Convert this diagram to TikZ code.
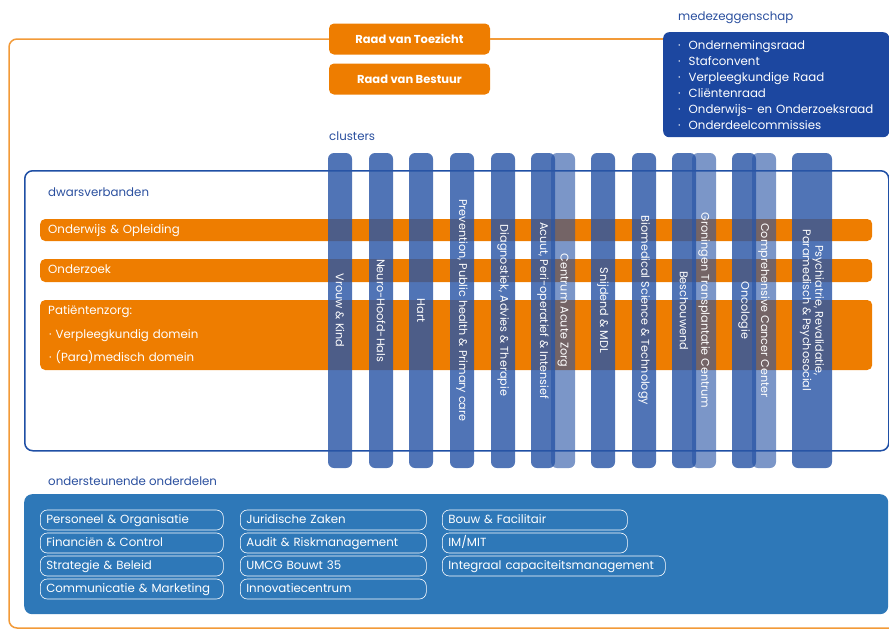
\documentclass[tikz,border=0pt]{standalone}
\usepackage{fontspec}
\setmainfont{Poppins}
\usepackage{tikz}
\definecolor{umcgorange}{HTML}{EE7D00}
\definecolor{framerange}{HTML}{F29A38}
\definecolor{umcgblue}{HTML}{1F4FA5}
\definecolor{mzblue}{HTML}{1C47A0}
\definecolor{clusterblue}{HTML}{2A56A6}
\definecolor{supportblue}{HTML}{2E78B8}
\definecolor{labelblue}{HTML}{2A4F9E}

\begin{document}
\begin{tikzpicture}[x=1pt,y=-1pt,
  every node/.style={font=\fontsize{11.8}{13}\selectfont},
  raad/.style={fill=umcgorange,text=white,rounded corners=5,minimum width=161,minimum height=31,font=\bfseries\fontsize{11.5}{13}\selectfont},
  lbl/.style={anchor=west,text=labelblue,inner sep=0},
  bar/.style={fill=umcgorange,text=white,rounded corners=5,anchor=west,minimum width=832,inner xsep=8,text width=816,align=left},
  col/.style={fill=clusterblue,rounded corners=6,rotate=-90,minimum width=315,text=white,inner sep=0,align=center,font=\fontsize{11.2}{12.5}\selectfont},
  sub/.style={draw=white,line width=0.6pt,rounded corners=7,text=white,anchor=west,minimum height=20,inner xsep=6,inner ysep=0,
    text height=8.5,text depth=2.5,text width=#1-12,align=left}]
\useasboundingbox (0,0) rectangle (889,632);

% top: boards and medezeggenschap
\node[raad] (toezicht) at (409.5,39) {Raad van Toezicht};
\node[raad] (bestuur) at (409.5,79) {Raad van Bestuur};
\node[lbl] (mzlabel) at (678,18) {medezeggenschap};
\node[fill=mzblue,text=white,rounded corners=6,anchor=north west,minimum width=226,minimum height=105,
  inner xsep=15,text width=196,align=left,font=\fontsize{11.8}{16}\selectfont] (mz) at (663,32)
  {·\hspace{8pt}Ondernemingsraad\\ ·\hspace{8pt}Stafconvent\\ ·\hspace{8pt}Verpleegkundige Raad\\ ·\hspace{8pt}Cliëntenraad\\
   ·\hspace{8pt}Onderwijs- en Onderzoeksraad\\ ·\hspace{8pt}Onderdeelcommissies};
\draw[framerange,line width=1.5pt] (toezicht.east) -- (toezicht.east -| mz.west);
\draw[framerange,line width=1.5pt,rounded corners=8] (toezicht.west) -| (9,628) -- (900,628);

% dwarsverbanden
\node[lbl] (clusters) at (329,136) {clusters};
\node[draw=umcgblue,line width=1.5pt,rounded corners=8,anchor=north west,minimum width=864,minimum height=280] (dwars) at (24,170) {};
\node[lbl] (dwarslabel) at (48,192) {dwarsverbanden};
\node[bar,minimum height=22,text height=8.5,text depth=2.5] (onderwijs) at (40,230) {Onderwijs \& Opleiding};
\node[bar,minimum height=23,text height=8.5,text depth=2.5] (onderzoek) at (40,270.5) {Onderzoek};
\node[bar,minimum height=70,font=\fontsize{11.8}{23.5}\selectfont] (zorg) at (40,335)
  {Patiëntenzorg:\\ \hspace{1pt}·\hspace{4pt}Verpleegkundig domein\\ \hspace{1pt}·\hspace{4pt}(Para)medisch domein};

% clusters
\foreach \n/\x/\w/\op/\t in {%
  vrouw/340/24/0.82/{Vrouw \& Kind},
  neuro/381/24/0.82/{Neuro-Hoofd-Hals},
  hart/421/24/0.82/{Hart},
  prevention/462/24/0.82/{Prevention, Public health \& Primary care},
  diagnostiek/503/24/0.82/{Diagnostiek, Advies \& Therapie},
  acuut/543/24/0.82/{Acuut, Peri-operatief \& Intensief},
  acutezorg/563/24/0.62/{Centrum Acute Zorg},
  snijdend/603/24/0.82/{Snijdend \& MDL},
  biomedical/644/24/0.82/{Biomedical Science \& Technology},
  beschouwend/684/24/0.82/{Beschouwend},
  transplantatie/704/24/0.62/{Groningen Transplantatie Centrum},
  oncologie/744/24/0.82/{Oncologie},
  cancer/764/24/0.62/{Comprehensive Cancer Center},
  psychiatrie/812/40/0.82/{Psychiatrie, Revalidatie,\\ Paramedisch \& Psychosocial}} {
  \node[col,minimum height=\w,fill opacity=\op,text opacity=1] (\n) at (\x,310.5) {\t};
}

% ondersteunende onderdelen
\node[lbl] (steunlabel) at (48,481) {ondersteunende onderdelen};
\node[fill=supportblue,rounded corners=8,anchor=north west,minimum width=864,minimum height=120] (steun) at (24,494) {};
\foreach \n/\x/\y/\w/\t in {%
  po/40/520/183/{Personeel \& Organisatie},
  fc/40/543/183/{Financiën \& Control},
  sb/40/566/183/{Strategie \& Beleid},
  cm/40/589/183/{Communicatie \& Marketing},
  jz/240/520/186/{Juridische Zaken},
  ar/240/543/186/{Audit \& Riskmanagement},
  ub/240/566/186/{UMCG Bouwt 35},
  ic/240/589/186/{Innovatiecentrum},
  bf/442/520/185/{Bouw \& Facilitair},
  im/442/543/185/{IM/MIT},
  cap/442/566/223/{Integraal capaciteitsmanagement}} {
  \node[sub=\w] (\n) at (\x,\y) {\t};
}
\end{tikzpicture}
\end{document}
